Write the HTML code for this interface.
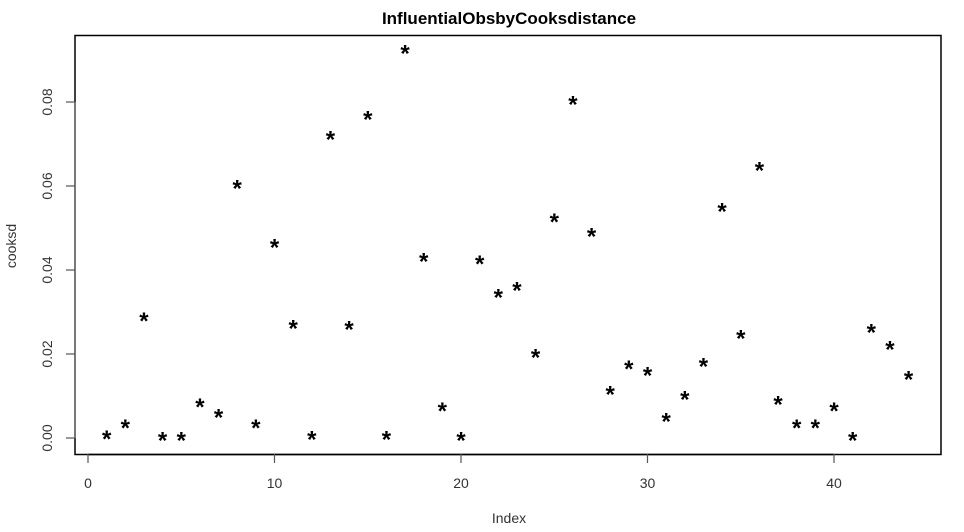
<!DOCTYPE html>
<html><head><meta charset="utf-8"><style>
html,body{margin:0;padding:0;background:#fff;}
svg{display:block;font-family:"Liberation Sans",sans-serif;}
</style></head><body>
<svg id="chart" width="964" height="532" viewBox="0 0 964 532">
<text x="509" y="24" text-anchor="middle" font-weight="bold" font-size="17">InfluentialObsbyCooksdistance</text>
<rect x="75" y="35.5" width="866" height="419" fill="none" stroke="#000" stroke-width="1.5"/>
<text x="509" y="523" text-anchor="middle" font-size="14" fill="#333">Index</text>
<text transform="translate(16,246) rotate(-90)" text-anchor="middle" font-size="14" fill="#333">cooksd</text>
<g id="xaxis"></g>
<g id="yaxis"></g>
<g id="points"></g>
</svg>
<script>
const idx=[1,2,3,4,5,6,7,8,9,10,11,12,13,14,15,16,17,18,19,20,21,22,23,24,25,26,27,28,29,30,31,32,33,34,35,36,37,38,39,40,41,42,43,44];
const vals=[0.0003,0.003,0.0285,0.0,0.0,0.008,0.0055,0.060,0.003,0.046,0.0267,0.0002,0.0717,0.0264,0.0764,0.0002,0.0921,0.0426,0.007,0.0,0.042,0.034,0.0357,0.0198,0.052,0.080,0.0486,0.011,0.017,0.0155,0.0045,0.0098,0.0176,0.0545,0.0243,0.0643,0.0086,0.003,0.003,0.007,0.0,0.0257,0.0217,0.0145];
const xTicks=[0,10,20,30,40];
const yTicks=[0,0.02,0.04,0.06,0.08];
const yTickLabels=["0.00","0.02","0.04","0.06","0.08"];
const NS="http://www.w3.org/2000/svg";
function sx(v){return 88+v*18.65;}
function sy(v){return 438-v*4200;}
function mk(t,a){const e=document.createElementNS(NS,t);for(const k in a)e.setAttribute(k,a[k]);return e;}
const xg=document.getElementById('xaxis'),yg=document.getElementById('yaxis'),pg=document.getElementById('points');
xg.appendChild(mk('line',{x1:sx(0),x2:sx(40),y1:454.5,y2:454.5,stroke:'#000','stroke-width':1.5}));
xTicks.forEach(t=>{
  const l=mk('line',{x1:sx(t),x2:sx(t),y1:454,y2:463,stroke:'#555','stroke-width':1.2});
  
  
  xg.appendChild(l);
  const tx=mk('text',{x:sx(t),y:488,'text-anchor':'middle','font-size':14,fill:'#333'});
  tx.textContent=t;
  
  
  xg.appendChild(tx);
});
yg.appendChild(mk('line',{x1:75,x2:75,y1:sy(0.08),y2:sy(0),stroke:'#777','stroke-width':1.5}));
yTicks.forEach((t,i)=>{
  const l=mk('line',{x1:66,x2:75,y1:sy(t),y2:sy(t),stroke:'#555','stroke-width':1.2});
  
  
  yg.appendChild(l);
  const tx=mk('text',{transform:`translate(52,${sy(t)}) rotate(-90)`,'text-anchor':'middle','font-size':14,fill:'#333'});
  tx.textContent=yTickLabels[i];
  
  
  yg.appendChild(tx);
});
idx.forEach((d,i)=>{
  const t=mk('text',{x:sx(d),y:sy(vals[i])+10.5,'text-anchor':'middle','font-size':24,'font-weight':'bold',fill:'#000'});
  t.textContent='*';
  
  
  pg.appendChild(t);
});
</script>
</body></html>
